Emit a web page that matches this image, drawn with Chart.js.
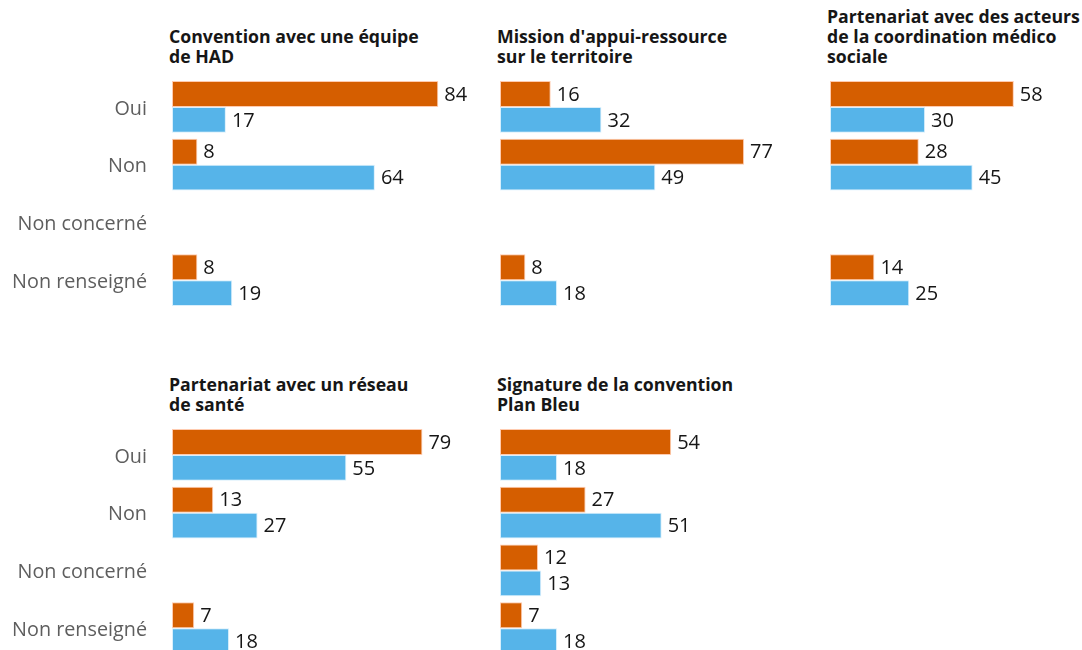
<!DOCTYPE html>
<html><head><meta charset="utf-8">
<script src="https://cdn.jsdelivr.net/npm/chart.js@4/dist/chart.umd.min.js"></script>
<style>
html,body{margin:0;padding:0;background:#fff;width:1082px;height:650px;overflow:hidden;position:relative;font-family:"Open Sans",sans-serif}
.t{position:absolute;font-weight:700;font-size:17.7px;line-height:20px;color:#161616;white-space:nowrap}
.c{position:absolute}
</style></head><body>
<script>
// ---- data ----
const categories = ['Oui', 'Non', 'Non concerné', 'Non renseigné'];
const titles = [
  ['Convention avec une équipe', 'de HAD'],
  ["Mission d'appui-ressource", 'sur le territoire'],
  ['Partenariat avec des acteurs', 'de la coordination médico', 'sociale'],
  ['Partenariat avec un réseau', 'de santé'],
  ['Signature de la convention', 'Plan Bleu']
];
const hadOrange = [84, 8, null, 8];
const hadBlue = [17, 64, null, 19];
const appuiOrange = [16, 77, null, 8];
const appuiBlue = [32, 49, null, 18];
const coordOrange = [58, 28, null, 14];
const coordBlue = [30, 45, null, 25];
const reseauOrange = [79, 13, null, 7];
const reseauBlue = [55, 27, null, 18];
const planBleuOrange = [54, 27, 12, 7];
const planBleuBlue = [18, 51, 13, 18];

// ---- layout ----
const ORANGE = '#d55e00', BLUE = '#56b4e9';
const LABEL_W = 172, PLOT_W = 317, ROW_H = 231;
const panels = [
  {o: hadOrange, b: hadBlue, x: 172, y: 78, labels: true, title: titles[0]},
  {o: appuiOrange, b: appuiBlue, x: 500, y: 78, labels: false, title: titles[1]},
  {o: coordOrange, b: coordBlue, x: 830, y: 78, labels: false, title: titles[2]},
  {o: reseauOrange, b: reseauBlue, x: 172, y: 426, labels: true, title: titles[3]},
  {o: planBleuOrange, b: planBleuBlue, x: 500, y: 426, labels: false, title: titles[4]}
];

const valueLabels = {
  id: 'valueLabels',
  afterDatasetsDraw(chart) {
    const ctx = chart.ctx;
    ctx.save();
    ctx.font = '20px "Open Sans"';
    ctx.fillStyle = '#161616';
    ctx.textBaseline = 'middle';
    ctx.textAlign = 'left';
    chart.data.datasets.forEach((ds, i) => {
      const meta = chart.getDatasetMeta(i);
      meta.data.forEach((el, j) => {
        const v = ds.data[j];
        if (v === null || v === undefined) return;
        ctx.fillText(String(v), el.x + 6, el.y + 1);
      });
    });
    ctx.restore();
  }
};

panels.forEach((p) => {
  const t = document.createElement('div');
  t.className = 't';
  t.style.left = (p.x - 3) + 'px';
  t.style.top = (p.y - 52 - (p.title.length - 2) * 20) + 'px';
  t.innerHTML = p.title.join('<br>');
  document.body.appendChild(t);

  const left = p.labels ? 0 : p.x;
  const w = p.labels ? LABEL_W + PLOT_W : PLOT_W;
  const wrap = document.createElement('div');
  wrap.className = 'c';
  wrap.style.left = left + 'px';
  wrap.style.top = p.y + 'px';
  wrap.style.width = w + 'px';
  wrap.style.height = ROW_H + 'px';
  const cv = document.createElement('canvas');
  wrap.appendChild(cv);
  document.body.appendChild(wrap);

  new Chart(cv, {
    type: 'bar',
    data: {
      labels: categories,
      datasets: [
        {data: p.o, backgroundColor: ORANGE, borderColor: 'rgba(255,160,110,0.55)', borderWidth: 1, borderSkipped: false},
        {data: p.b, backgroundColor: BLUE, borderColor: 'rgba(190,228,250,0.6)', borderWidth: 1, borderSkipped: false}
      ]
    },
    options: {
      indexAxis: 'y',
      responsive: true,
      maintainAspectRatio: false,
      animation: false,
      events: [],
      layout: {padding: 0},
      categoryPercentage: 0.9,
      barPercentage: 1,
      plugins: {legend: {display: false}, tooltip: {enabled: false}, title: {display: false}},
      scales: {
        x: {display: false, min: 0, max: 100},
        y: {
          display: p.labels,
          grid: {display: false, drawTicks: false},
          border: {display: false},
          ticks: {padding: 25, labelOffset: 2, color: '#5e5e5e', font: {family: '"Open Sans"', size: 19.8}},
          afterFit(scale) {
            if (p.labels) scale.width = LABEL_W;
            scale.paddingTop = 0;
            scale.paddingBottom = 0;
          }
        }
      }
    },
    plugins: [valueLabels]
  });
});
</script>
</body></html>
